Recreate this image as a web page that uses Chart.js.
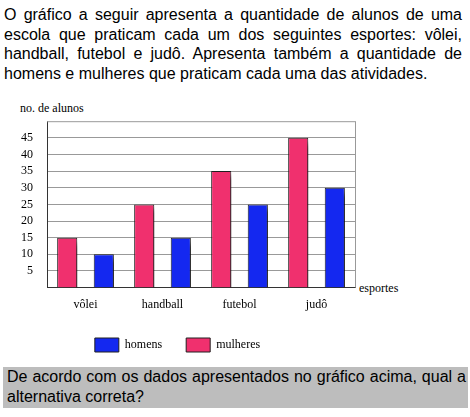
<!DOCTYPE html>
<html><head><meta charset="utf-8">
<script src="https://cdn.jsdelivr.net/npm/chart.js@4"></script>
<style>
body{margin:0;background:#fff;width:470px;height:417px;position:relative;overflow:hidden}
.t{position:absolute;font-family:"Liberation Sans",Arial,sans-serif;font-size:16px;line-height:19.5px;text-align:justify;text-align-last:left;color:#000}
.s{position:absolute;font-family:"Liberation Serif","DejaVu Serif",serif;font-size:12px;color:#000}
</style></head><body>
<div class="t" style="left:4px;top:5px;width:458px">O gráfico a seguir apresenta a quantidade de alunos de uma escola que praticam cada um dos seguintes esportes: vôlei, handball, futebol e judô. Apresenta também a quantidade de homens e mulheres que praticam cada uma das atividades.</div>
<div class="s" style="left:20px;top:101px">no. de alunos</div>
<div class="s" style="left:359px;top:281px">esportes</div>
<div style="position:absolute;left:0;top:100px;width:420px;height:262px"><canvas id="c"></canvas></div>
<div class="t" style="left:3px;top:367px;width:459px;padding:0 2px 2px 4px;background:#bdbdbd">De acordo com os dados apresentados no gráfico acima, qual a alternativa correta?</div>
<script>
const categories=["vôlei","handball","futebol","judô"];
const mulheres=[15,25,35,45];
const homens=[10,15,25,30];
const yTicks=[5,10,15,20,25,30,35,40,45];
const shadow={id:'sh',beforeDatasetsDraw(c){c.ctx.save();c.ctx.shadowColor='rgba(0,0,0,0.6)';c.ctx.shadowBlur=5;c.ctx.shadowOffsetX=6;c.ctx.shadowOffsetY=5;},afterDatasetsDraw(c){c.ctx.restore();}};
new Chart(document.getElementById('c'),{type:'bar',
data:{labels:categories,datasets:[
{label:'mulheres',data:mulheres,backgroundColor:'#f0306e',borderColor:'#202020',borderWidth:1,barPercentage:0.55,categoryPercentage:0.95},
{label:'homens',data:homens,backgroundColor:'#1428f0',borderColor:'#202020',borderWidth:1,barPercentage:0.55,categoryPercentage:0.95}]},
options:{responsive:true,maintainAspectRatio:false,animation:false,
layout:{padding:{top:9,right:65,left:0,bottom:0}},
plugins:{legend:{position:'bottom',reverse:true,labels:{boxWidth:24,boxHeight:14,padding:24,color:'#000',font:{family:'Liberation Serif',size:12}}},tooltip:{enabled:false}},
scales:{
x:{grid:{display:false},border:{color:'#333'},ticks:{padding:2,color:'#000',font:{family:'Liberation Serif',size:12}}},
y:{min:0,max:50,afterFit(s){s.width=47},afterBuildTicks(s){s.ticks=yTicks.map(v=>({value:v}))},
grid:{color:'#999',drawTicks:false},border:{color:'#333'},ticks:{padding:14,color:'#000',font:{family:'Liberation Serif',size:12}}}}},
plugins:[shadow,{id:'rb',afterDraw(c){const a=c.chartArea,x=c.ctx;x.save();x.strokeStyle='#999';x.beginPath();x.moveTo(a.right+.5,a.top);x.lineTo(a.right+.5,a.bottom);x.moveTo(a.left,a.top+.5);x.lineTo(a.right,a.top+.5);x.stroke();x.restore();}}]});
</script></body></html>
